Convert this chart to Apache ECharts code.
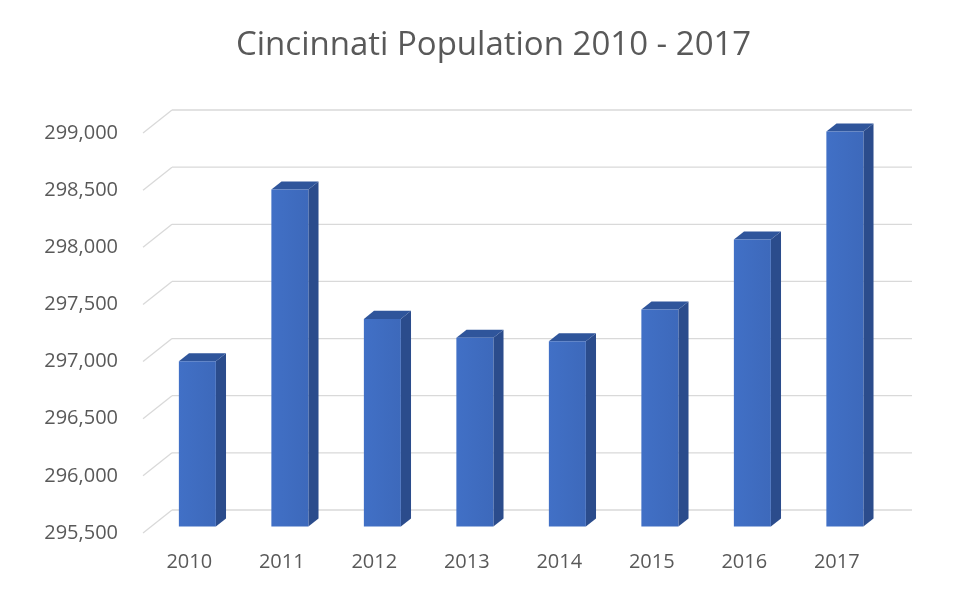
<!DOCTYPE html>
<html>
<head>
<meta charset="utf-8">
<script src="https://cdn.jsdelivr.net/npm/echarts@6/dist/echarts.min.js"></script>
<style>
html,body{margin:0;padding:0;background:#fff;}
#chart{width:953px;height:597px;}
</style>
</head>
<body>
<div id="chart"></div>
<script>
const categories = ['2010','2011','2012','2013','2014','2015','2016','2017'];
const population = [296946, 298449, 297317, 297151, 297121, 297399, 298011, 298956];
const yTicks = [295500, 296000, 296500, 297000, 297500, 298000, 298500, 299000];

// 3D look: depth offset of back wall relative to front plane
const DEPTH_DX = 29, DEPTH_DY = -23;
const BAR_FRONT = 0.28, BAR_BACK = 0.63; // fraction of depth
const BAR_W = 37;

const chart = echarts.init(document.getElementById('chart'));

const option = {
  backgroundColor: '#ffffff',
  animation: false,
  title: {
    text: 'Cincinnati Population 2010 - 2017',
    left: 231,
    top: 24,
    textStyle: { fontFamily: 'Open Sans', fontWeight: 'normal', fontSize: 33, color: '#595959' }
  },
  grid: { left: 143, right: 70, top: 133, bottom: 64 },
  xAxis: {
    type: 'category',
    data: categories,
    axisLine: { show: false },
    axisTick: { show: false },
    axisLabel: { color: '#595959', fontSize: 20, fontFamily: 'Open Sans', margin: 19 }
  },
  yAxis: {
    type: 'value',
    min: 295500,
    max: 299000,
    interval: 500,
    splitLine: { show: false },
    axisLine: { show: false },
    axisTick: { show: false },
    axisLabel: {
      color: '#595959', fontSize: 20, fontFamily: 'Open Sans', margin: 25,
      formatter: v => v.toLocaleString('en-US')
    }
  },
  series: [
    {
      type: 'custom',
      silent: true,
      data: yTicks.map(v => [0, v]),
      z: 1,
      renderItem: function (params, api) {
        const cs = params.coordSys;
        const y = api.coord([0, api.value(1)])[1];
        const style = { stroke: '#d9d9d9', lineWidth: 1.3, fill: null };
        return {
          type: 'group',
          children: [
            { type: 'line', shape: { x1: cs.x, y1: y, x2: cs.x + DEPTH_DX, y2: y + DEPTH_DY }, style: style },
            { type: 'line', shape: { x1: cs.x + DEPTH_DX, y1: y + DEPTH_DY, x2: cs.x + cs.width + DEPTH_DX, y2: y + DEPTH_DY }, style: style }
          ]
        };
      }
    },
    {
      type: 'custom',
      silent: true,
      data: population.map((v, i) => [i, v]),
      z: 2,
      renderItem: function (params, api) {
        const i = api.value(0);
        const top = api.coord([i, api.value(1)]);
        const base = api.coord([i, 295500]);
        const fx = DEPTH_DX * BAR_FRONT, fy = DEPTH_DY * BAR_FRONT;
        const bx = DEPTH_DX * BAR_BACK, by = DEPTH_DY * BAR_BACK;
        const x0 = top[0] - BAR_W / 2 + fx;
        const x1 = top[0] + BAR_W / 2 + fx;
        const yt = top[1] + fy;
        const yb = base[1] + fy;
        const ox = bx - fx, oy = by - fy;
        return {
          type: 'group',
          children: [
            { type: 'polygon', shape: { points: [[x1, yt], [x1 + ox, yt + oy], [x1 + ox, yb + oy], [x1, yb]] },
              style: { fill: '#2b4c8c' } },
            { type: 'polygon', shape: { points: [[x0, yt], [x0 + ox, yt + oy], [x1 + ox, yt + oy], [x1, yt]] },
              style: { fill: '#2f559b' } },
            { type: 'rect', shape: { x: x0, y: yt, width: BAR_W, height: yb - yt },
              style: { fill: new echarts.graphic.LinearGradient(0, 0, 1, 0, [
                { offset: 0, color: '#4170c6' }, { offset: 1, color: '#3d69bb' }]) } }
          ]
        };
      }
    }
  ]
};
chart.setOption(option);
</script>
</body>
</html>
